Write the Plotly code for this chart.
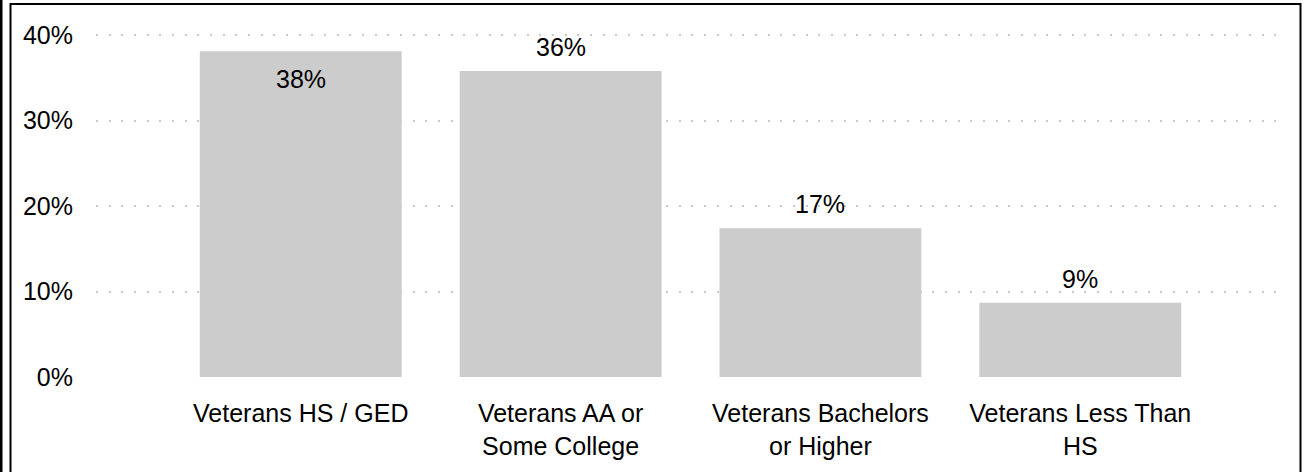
import plotly.graph_objects as go

categories = ["Veterans HS / GED", "Veterans AA or<br>Some College",
              "Veterans Bachelors<br>or Higher", "Veterans Less Than<br>HS"]
values = [38.1, 35.8, 17.4, 8.7]
labels = ["38%", "36%", "17%", "9%"]
y_ticks = [0, 10, 20, 30, 40]
y_tick_text = ["0%", "10%", "20%", "30%", "40%"]

FONT = "Arial, Liberation Sans, sans-serif"
FS = 25

fig = go.Figure()
fig.add_trace(go.Bar(
    x=categories, y=values,
    marker=dict(color="#cccccc", line=dict(width=0)),
    width=0.777, hoverinfo="skip",
))

annotations = []
for c, v, t in zip(categories, values, labels):
    inside = v > 37
    annotations.append(dict(
        x=c, y=v, xref="x", yref="y", text=t, showarrow=False,
        yanchor="top" if inside else "bottom",
        yshift=-12 if inside else 8,
        font=dict(family=FONT, size=FS, color="#000000"),
    ))

fig.update_layout(
    width=1307, height=472,
    margin=dict(l=96, r=22, t=18, b=93),
    paper_bgcolor="white", plot_bgcolor="white",
    showlegend=False,
    font=dict(family=FONT, size=FS, color="#000000"),
    annotations=annotations,
    shapes=[
        dict(type="rect", xref="paper", yref="paper",
             x0=-85.5 / 1189, x1=1204.5 / 1189,
             y0=-200 / 361, y1=1 + 14 / 361,
             line=dict(color="#000000", width=2), fillcolor="rgba(0,0,0,0)",
             layer="above"),
        dict(type="line", xref="paper", yref="paper",
             x0=-95 / 1189, x1=-95 / 1189, y0=-300 / 361, y1=1 + 50 / 361,
             line=dict(color="#000000", width=3)),
    ],
)
fig.update_xaxes(
    range=[-0.788, 3.788], showgrid=False, zeroline=False, showline=False,
    ticks="", ticklabelstandoff=19,
    tickfont=dict(family=FONT, size=FS, color="#000000"),
)
fig.update_yaxes(
    range=[0, 42], tickvals=y_ticks, ticktext=y_tick_text,
    showgrid=True, gridcolor="#c8c8c8", gridwidth=2, griddash="2px,10.67px",
    zeroline=False, showline=False, ticks="", ticklabelstandoff=22,
    tickfont=dict(family=FONT, size=FS, color="#000000"),
)

fig.write_html("out.html", config={"displayModeBar": False},
               post_script=["document.body.style.margin='0';"])
